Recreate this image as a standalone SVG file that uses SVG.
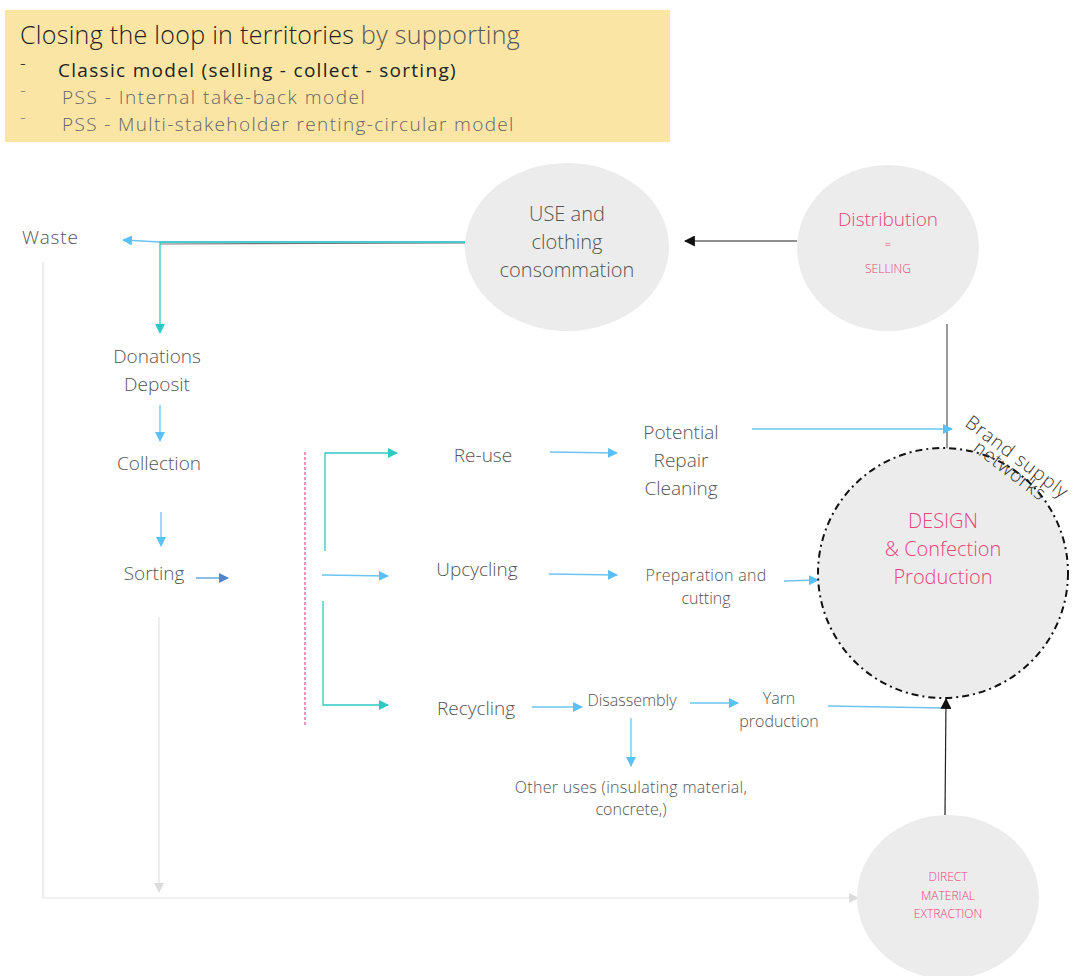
<svg xmlns="http://www.w3.org/2000/svg" width="1080" height="976" viewBox="0 0 1080 976">
<defs>
<style>
text{font-family:"Open Sans","Lato","Liberation Sans",sans-serif;font-weight:300;fill:#555}
.c{text-anchor:middle}
.pk{fill:#e8457a}
.dk{fill:#222}
.blue{stroke:#6cc4f2;stroke-width:1.3;fill:none}
.teal{stroke:#2ec9c4;stroke-width:1.3;fill:none}
.lg{stroke:#e2e2e2;stroke-width:1.2;fill:none}
.blk{stroke:#222;stroke-width:1.2;fill:none}
</style>
<marker id="ab" viewBox="0 0 10 10" refX="9" refY="5" markerWidth="10" markerHeight="10" markerUnits="userSpaceOnUse" orient="auto"><path d="M0,0L10,5L0,10z" fill="#5bc0f5"/></marker>
<marker id="at" viewBox="0 0 10 10" refX="9" refY="5" markerWidth="10" markerHeight="10" markerUnits="userSpaceOnUse" orient="auto"><path d="M0,0L10,5L0,10z" fill="#2ec9c4"/></marker>
<marker id="ad" viewBox="0 0 10 10" refX="9" refY="5" markerWidth="10" markerHeight="10" markerUnits="userSpaceOnUse" orient="auto"><path d="M0,0L10,5L0,10z" fill="#4a86c8"/></marker>
<marker id="ag" viewBox="0 0 10 10" refX="9" refY="5" markerWidth="10" markerHeight="10" markerUnits="userSpaceOnUse" orient="auto"><path d="M0,0L10,5L0,10z" fill="#dcdcdc"/></marker>
<marker id="ak" viewBox="0 0 10 10" refX="9" refY="5" markerWidth="11" markerHeight="11" markerUnits="userSpaceOnUse" orient="auto"><path d="M0,0L10,5L0,10z" fill="#111"/></marker>
</defs>
<rect width="1080" height="976" fill="#fff"/>

<g id="title">
<rect x="5" y="10" width="665" height="132" fill="#fbe5a5"/>
<text x="20" y="44" font-size="25" style="letter-spacing:0.3px"><tspan fill="#222">Closing the loop in territories</tspan><tspan fill="#555"> by supporting</tspan></text>
<text x="20" y="70" font-size="18" class="dk">-</text>
<text x="58" y="77" font-size="19" class="dk" style="font-weight:400;letter-spacing:1.3px">Classic model (selling - collect - sorting)</text>
<text x="20" y="97" font-size="18" style="fill:#888">-</text>
<text x="62" y="104" font-size="19" style="fill:#666;letter-spacing:1.5px">PSS - Internal take-back model</text>
<text x="20" y="124" font-size="18" style="fill:#888">-</text>
<text x="62" y="131" font-size="19" style="fill:#666;letter-spacing:1.35px">PSS - Multi-stakeholder renting-circular model</text>
</g>

<g id="connectors">
<line x1="465" y1="243" x2="160" y2="244" stroke="#777" stroke-width="1.2"/>
<path class="blue" d="M465,242 L160,242 L123,240" marker-end="url(#ab)"/>
<path class="teal" d="M465,242 L160,242 L160,333" marker-end="url(#at)"/>
<line class="blk" x1="797" y1="241" x2="685" y2="241" marker-end="url(#ak)"/>
<line x1="947" y1="324" x2="947" y2="449" stroke="#555" stroke-width="1.2"/>
<line class="blue" x1="160" y1="405" x2="160" y2="441" marker-end="url(#ab)"/>
<line class="blue" x1="161" y1="512" x2="161" y2="546" marker-end="url(#ab)"/>
<line x1="196" y1="578" x2="228" y2="578" stroke="#6aa7dc" stroke-width="1.5" marker-end="url(#ad)"/>
<line class="lg" x1="159" y1="617" x2="159" y2="892" marker-end="url(#ag)"/>
<path class="lg" d="M43,262 L43,898 L858,898" marker-end="url(#ag)"/>
<line x1="305" y1="452" x2="305" y2="725" stroke="#e45a9a" stroke-width="1.3" stroke-dasharray="3,2"/>
<path class="teal" d="M325,551 L325,453 L397,453" marker-end="url(#at)"/>
<line class="blue" x1="322" y1="575" x2="388" y2="576" marker-end="url(#ab)"/>
<path class="teal" d="M323,601 L323,705 L388,705" marker-end="url(#at)"/>
<line class="blue" x1="550" y1="452" x2="617" y2="453" marker-end="url(#ab)"/>
<line class="blue" x1="752" y1="429" x2="952" y2="429" marker-end="url(#ab)"/>
<line class="blue" x1="549" y1="574" x2="617" y2="575" marker-end="url(#ab)"/>
<line class="blue" x1="784" y1="581" x2="818" y2="580" marker-end="url(#ab)"/>
<line class="blue" x1="532" y1="707" x2="582" y2="707" marker-end="url(#ab)"/>
<line class="blue" x1="690" y1="703" x2="738" y2="703" marker-end="url(#ab)"/>
<line class="blue" x1="828" y1="706" x2="944" y2="708"/>
<line class="blue" x1="631" y1="718" x2="631" y2="766" marker-end="url(#ab)"/>
<line class="blk" x1="945" y1="815" x2="946" y2="699" marker-end="url(#ak)"/>
</g>

<g id="use">
<ellipse cx="567" cy="247" rx="102" ry="84" fill="#ececec"/>
<text class="c" x="567" y="221" font-size="20">USE and</text>
<text class="c" x="567" y="249" font-size="20">clothing</text>
<text class="c" x="567" y="277" font-size="20">consommation</text>
</g>

<g id="distribution">
<ellipse cx="888" cy="248" rx="91" ry="83" fill="#ececec"/>
<text class="c pk" x="888" y="226" font-size="19">Distribution</text>
<text class="c pk" x="888" y="248" font-size="11">=</text>
<text class="c pk" x="888" y="273" font-size="12">SELLING</text>
</g>

<g id="waste"><text x="22" y="244" font-size="19" style="letter-spacing:0.8px">Waste</text></g>
<g id="donations">
<text class="c" x="157" y="363" font-size="19">Donations</text>
<text class="c" x="157" y="391" font-size="19">Deposit</text>
</g>
<g id="collection"><text class="c" x="159" y="470" font-size="19">Collection</text></g>
<g id="sorting"><text class="c" x="154" y="580" font-size="19">Sorting</text></g>

<g id="reuse"><text class="c" x="483" y="462" font-size="19">Re-use</text></g>
<g id="repair">
<text class="c" x="681" y="439" font-size="19">Potential</text>
<text class="c" x="681" y="467" font-size="19">Repair</text>
<text class="c" x="681" y="495" font-size="19">Cleaning</text>
</g>
<g id="upcycling"><text class="c" x="477" y="576" font-size="19">Upcycling</text></g>
<g id="preparation">
<text class="c" x="706" y="581" font-size="16" style="letter-spacing:0.3px">Preparation and</text>
<text class="c" x="706" y="604" font-size="16">cutting</text>
</g>
<g id="recycling"><text class="c" x="476" y="715" font-size="19">Recycling</text></g>
<g id="disassembly"><text class="c" x="632" y="706" font-size="16">Disassembly</text></g>
<g id="yarn">
<text class="c" x="779" y="704" font-size="16">Yarn</text>
<text class="c" x="779" y="727" font-size="16">production</text>
</g>
<g id="otheruses">
<text class="c" x="631" y="793" font-size="16" style="letter-spacing:0.3px">Other uses (insulating material,</text>
<text class="c" x="631" y="815" font-size="16">concrete,)</text>
</g>

<g id="design">
<circle cx="943" cy="573" r="125" fill="#ececec" stroke="#111" stroke-width="2" stroke-dasharray="7,4,2,4"/>
<text class="c pk" x="943" y="528" font-size="20">DESIGN</text>
<text class="c pk" x="943" y="556" font-size="20">&amp; Confection</text>
<text class="c pk" x="943" y="584" font-size="20">Production</text>
</g>
<g id="brand">
<text x="0" y="0" font-size="19" transform="translate(964,425) rotate(37)" style="fill:#333;letter-spacing:0.9px">Brand supply</text>
<text x="0" y="0" font-size="19" transform="translate(972,450) rotate(37)" style="fill:#333;letter-spacing:0.9px">networks</text>
</g>

<g id="direct">
<ellipse cx="948" cy="897" rx="91" ry="82" fill="#ececec"/>
<text class="c pk" x="948" y="881" font-size="12">DIRECT</text>
<text class="c pk" x="948" y="900" font-size="12">MATERIAL</text>
<text class="c pk" x="948" y="918" font-size="12">EXTRACTION</text>
</g>
</svg>
